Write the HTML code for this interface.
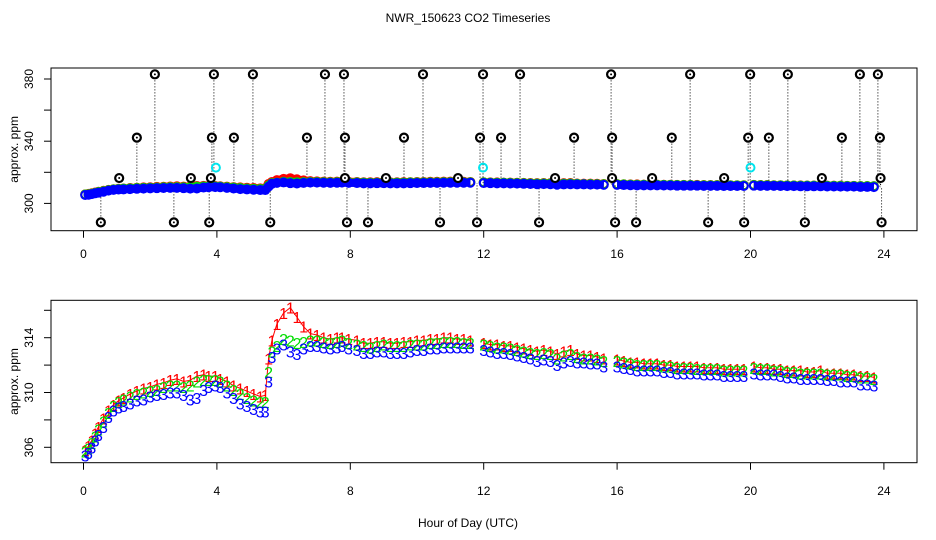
<!DOCTYPE html>
<html><head><meta charset="utf-8"><style>
html,body{margin:0;padding:0;background:#fff;}
svg{display:block;font-family:"Liberation Sans",sans-serif;}
</style></head><body>
<svg id="chart" width="936" height="540" viewBox="0 0 936 540" xmlns="http://www.w3.org/2000/svg">
<rect width="936" height="540" fill="#fff"/>
<text x="468" y="22" font-size="12" text-anchor="middle">NWR_150623  CO2 Timeseries</text>
<text x="468" y="527" font-size="12" text-anchor="middle">Hour of Day (UTC)</text>
<g id="top"></g>
<g id="bottom"></g>
</svg>
<script>
const times = [0.05,0.15,0.25,0.35,0.45,0.6,0.75,0.9,1.05,1.2,1.4,1.6,1.8,2.0,2.2,2.4,2.6,2.8,3.0,3.2,3.4,3.6,3.75,
3.95,4.1,4.3,4.5,4.7,4.9,5.1,5.3,5.45,5.55,5.65,5.8,6.0,6.2,6.4,6.6,6.8,7.0,7.2,7.4,7.6,7.75,
7.95,8.2,8.4,8.6,8.8,9.0,9.2,9.4,9.6,9.8,10.0,10.2,10.4,10.6,10.8,11.0,11.2,11.4,11.6,
12.0,12.2,12.4,12.6,12.8,13.0,13.2,13.4,13.6,13.8,14.0,14.2,14.4,14.6,14.8,15.0,15.2,15.4,15.6,
16.0,16.2,16.4,16.6,16.8,17.0,17.2,17.4,17.6,17.8,18.0,18.2,18.4,18.6,18.8,19.0,19.2,19.4,19.6,19.8,
20.1,20.3,20.5,20.7,20.9,21.1,21.3,21.5,21.7,21.9,22.1,22.3,22.5,22.7,22.9,23.1,23.3,23.5,23.7];
const series3 = [305.4,305.6,306.0,306.5,306.9,307.5,308.2,308.7,308.9,309.0,309.2,309.4,309.5,309.7,309.8,309.9,310.0,310.0,309.8,309.5,309.6,310.2,310.4,
310.5,310.4,310.0,309.6,309.2,309.0,308.8,308.6,308.6,310.8,312.6,313.2,313.5,313.0,312.8,313.2,313.4,313.4,313.3,313.2,313.3,313.4,
313.2,313.1,312.9,312.9,313.0,313.0,312.9,312.9,312.9,313.0,313.1,313.1,313.2,313.2,313.3,313.3,313.3,313.3,313.3,
313.1,313.0,312.9,312.9,312.8,312.7,312.6,312.5,312.3,312.4,312.3,312.0,312.2,312.3,312.2,312.2,312.1,312.1,311.9,
311.9,311.8,311.7,311.6,311.6,311.6,311.6,311.5,311.5,311.4,311.4,311.4,311.4,311.3,311.3,311.3,311.2,311.2,311.2,311.2,
311.4,311.3,311.3,311.3,311.2,311.1,311.1,311.0,311.0,311.0,311.0,310.9,310.9,310.8,310.8,310.8,310.6,310.6,310.5];
const series2 = [305.7,305.9,306.3,306.8,307.3,307.9,308.5,309.0,309.3,309.5,309.7,309.9,310.0,310.1,310.2,310.4,310.5,310.5,310.4,310.5,310.8,310.9,310.9,
310.9,310.8,310.5,310.2,309.9,309.6,309.4,309.3,309.3,311.5,313.0,313.4,313.9,313.8,313.6,313.7,313.8,313.8,313.7,313.6,313.7,313.8,
313.6,313.5,313.4,313.3,313.4,313.5,313.4,313.4,313.4,313.5,313.5,313.5,313.6,313.6,313.7,313.7,313.7,313.6,313.6,
313.5,313.4,313.3,313.3,313.2,313.1,313.0,312.9,312.8,312.9,312.8,312.5,312.7,312.8,312.6,312.5,312.5,312.4,312.3,
312.3,312.2,312.1,312.0,312.0,312.0,312.0,311.9,311.9,311.8,311.8,311.8,311.7,311.7,311.7,311.7,311.6,311.6,311.6,311.6,
311.8,311.7,311.7,311.6,311.6,311.5,311.5,311.4,311.4,311.4,311.4,311.3,311.3,311.3,311.2,311.2,311.1,311.1,311.0];
const series1 = [305.8,306.1,306.5,307.0,307.5,308.1,308.7,309.1,309.4,309.6,309.9,310.1,310.3,310.4,310.6,310.7,310.9,311.0,310.8,310.9,311.2,311.3,311.2,
311.2,311.0,310.8,310.5,310.3,310.1,309.9,309.7,309.8,312.5,313.8,315.0,315.8,316.2,315.5,314.8,314.3,314.2,314.0,313.9,314.0,314.0,
313.9,313.8,313.6,313.6,313.7,313.7,313.6,313.6,313.7,313.7,313.8,313.8,313.9,313.9,314.0,314.0,313.9,313.9,313.8,
313.6,313.5,313.5,313.4,313.4,313.3,313.2,313.1,313.0,313.1,313.0,312.8,313.0,313.1,312.8,312.7,312.7,312.6,312.5,
312.4,312.3,312.2,312.2,312.1,312.1,312.1,312.0,312.0,311.9,311.9,311.9,311.9,311.8,311.8,311.8,311.7,311.7,311.7,311.7,
311.9,311.8,311.8,311.7,311.7,311.6,311.6,311.6,311.5,311.5,311.6,311.4,311.4,311.4,311.3,311.3,311.2,311.2,311.1];
const outlierTimes = [2.14,3.91,5.08,7.24,7.81,10.18,11.98,13.09,15.82,18.19,19.99,21.12,23.28,23.82,
1.6,3.85,4.51,6.7,7.84,9.61,11.89,12.52,14.71,15.85,17.64,19.93,20.55,22.74,23.88,
1.07,3.22,3.82,7.84,9.07,11.23,14.14,15.85,17.05,19.21,22.14,23.9,
0.52,2.71,3.77,5.6,7.9,8.53,10.69,11.8,13.66,15.94,16.57,18.73,19.81,21.63,23.93];
const outlierValues = [383,383,383,383,383,383,383,383,383,383,383,383,383,383,
342.3,342.3,342.3,342.3,342.3,342.3,342.3,342.3,342.3,342.3,342.3,342.3,342.3,342.3,342.3,
316.3,316.3,316.3,316.3,316.3,316.3,316.3,316.3,316.3,316.3,316.3,316.3,
287.8,287.8,287.8,287.8,287.8,287.8,287.8,287.8,287.8,287.8,287.8,287.8,287.8,287.8,287.8];
const flagTimes = [3.97,11.98,20.0];
const flagValues = [323,323,323];
const xTicks = [0,4,8,12,16,20,24];
const topYTicks = [300,320,340,360,380];
const topYLabels = ["300","","340","","380"];
const botYTicks = [306,308,310,312,314,316];
const botYLabels = ["306","","310","","314",""];

const NS = "http://www.w3.org/2000/svg";
const L = 51, R = 917;
const xS = h => 83.5 + h * 33.35;
const topY = v => 79 + (380 - v) * 1.555;
const botY = v => 447.3 - (v - 306) * 13.7;
const COLORS = ["#ff0000", "#00dd00", "#0000ff"];

function mk(tag, attrs, parent) {
  const e = document.createElementNS(NS, tag);
  for (const k in attrs) e.setAttribute(k, attrs[k]);
  parent.appendChild(e);
  return e;
}

function axes(g, top, bot, yFn, yTicks, yLabels, xLabY, name) {
  const box = mk("rect", {x: L, y: top, width: R - L, height: bot - top, fill: "none", stroke: "#000", "stroke-width": 1}, g);
  
  
  xTicks.forEach(t => {
    const ln = mk("line", {x1: xS(t), x2: xS(t), y1: bot, y2: bot + 7, stroke: "#000"}, g);
    
    
    const tx = mk("text", {x: xS(t), y: xLabY, "font-size": 12, "text-anchor": "middle"}, g);
    tx.textContent = t;
    
    
  });
  yTicks.forEach((v, i) => {
    const y = yFn(v);
    const ln = mk("line", {x1: L - 7, x2: L, y1: y, y2: y, stroke: "#000"}, g);
    
    
    if (yLabels[i]) {
      const tx = mk("text", {x: 0, y: 0, "font-size": 12, "text-anchor": "middle", transform: `translate(33,${y}) rotate(-90)`}, g);
      tx.textContent = yLabels[i];
      
      
    }
  });
  const yt = mk("text", {x: 0, y: 0, "font-size": 12, "text-anchor": "middle", transform: `translate(18,${(top + bot) / 2}) rotate(-90)`}, g);
  yt.textContent = "approx. ppm";
  
  
}

function segments(vals, yFn) {
  const segs = []; let cur = [];
  times.forEach((t, i) => {
    if (i > 0 && t - times[i - 1] > 0.3) { segs.push(cur); cur = []; }
    cur.push(xS(t).toFixed(1) + "," + yFn(vals[i]).toFixed(1));
  });
  segs.push(cur);
  return segs;
}

// TOP PANEL
const gt = document.getElementById("top");
axes(gt, 68, 230.7, topY, topYTicks, topYLabels, 258, "top");
outlierTimes.forEach((t, i) => {
  const idx = times.reduce((b, tt, j) => Math.abs(tt - t) < Math.abs(times[b] - t) ? j : b, 0);
  const base = series3[idx];
  const ln = mk("line", {x1: xS(t), x2: xS(t), y1: topY(outlierValues[i]), y2: topY(base), stroke: "#000", "stroke-width": 1, "stroke-dasharray": "1,2"}, gt);
  
  
});
[series1, series2, series3].forEach((vals, s) => {
  segments(vals, topY).forEach(seg => {
    const pl = mk("polyline", {points: seg.join(" "), fill: "none", stroke: COLORS[s], "stroke-width": 8, "stroke-linejoin": "round"}, gt);
    
    
  });
  times.forEach((t, i) => {
    const c = mk("circle", {cx: xS(t), cy: topY(vals[i]), r: 4, fill: "none", stroke: COLORS[s], "stroke-width": 2}, gt);
    
    
  });
});
outlierTimes.forEach((t, i) => {
  const c = mk("circle", {cx: xS(t), cy: topY(outlierValues[i]), r: 4, fill: "#fff", stroke: "#000", "stroke-width": 2.2}, gt);
  
  
  const d = mk("circle", {cx: xS(t), cy: topY(outlierValues[i]), r: 1, fill: "#000"}, gt);
  
  
});
flagTimes.forEach((t, i) => {
  const c = mk("circle", {cx: xS(t), cy: topY(flagValues[i]), r: 4, fill: "none", stroke: "#00e5ee", "stroke-width": 2}, gt);
  
  
});

// BOTTOM PANEL
const gb = document.getElementById("bottom");
axes(gb, 300.3, 462.7, botY, botYTicks, botYLabels, 495, "bottom");
segments(series1, botY).forEach(seg => {
  const pl = mk("polyline", {points: seg.join(" "), fill: "none", stroke: COLORS[0], "stroke-width": 1}, gb);
  
  
});
[series1, series2, series3].forEach((vals, s) => {
  times.forEach((t, i) => {
    const tx = mk("text", {x: xS(t), y: botY(vals[i]) + 6, "font-size": 16, "text-anchor": "middle", fill: COLORS[s]}, gb);
    tx.textContent = String(s + 1);
    
    
  });
});
</script>
</body></html>
